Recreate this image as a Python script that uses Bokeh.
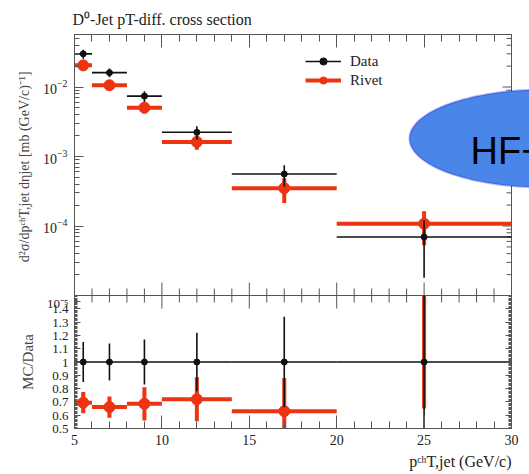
import numpy as np
from bokeh.plotting import figure
from bokeh.layouts import column
from bokeh.models import (Range1d, LinearAxis, LogAxis, SingleIntervalTicker,
                          FixedTicker, Legend, LegendItem,
                          PolyAnnotation, Label, Title, CustomJSTickFormatter)
from bokeh.embed import file_html
from bokeh.resources import INLINE

# ---------------- data ----------------
bin_lo = [5, 6, 8, 10, 14, 20]
bin_hi = [6, 8, 10, 14, 20, 30]
pt_centre = [5.5, 7, 9, 12, 17, 25]

data_xsec = [0.0300, 0.0161, 0.0074, 0.00223, 5.6e-4, 6.95e-5]
data_err = [0.0045, 0.0023, 0.0013, 0.00049, 1.9e-4, 5.15e-5]
rivet_xsec = [0.0205, 0.0106, 0.00505, 0.00162, 3.5e-4, 1.08e-4]
rivet_err = [0.0023, 0.0013, 0.0009, 0.00037, 1.35e-4, 5.5e-5]

data_ratio = [1.0, 1.0, 1.0, 1.0, 1.0, 1.0]
data_ratio_err = [0.15, 0.14, 0.17, 0.22, 0.34, 0.75]
rivet_ratio = [0.694, 0.661, 0.686, 0.72, 0.63, 1.55]
rivet_ratio_err = [0.08, 0.08, 0.125, 0.165, 0.25, 0.9]

ratio_tick_values = [0.5, 0.6, 0.7, 0.8, 0.9, 1.0, 1.1, 1.2, 1.3, 1.4]
x_major_ticks = [5, 10, 15, 20, 25, 30]
x_minor_ticks = [v for v in range(5, 31) if v % 5 != 0]
log_major_ticks = [1e-5, 1e-4, 1e-3, 1e-2]
log_minor_ticks = [k * t for t in log_major_ticks for k in range(2, 10) if k * t < 0.057]

title_text = "D\u2070-Jet pT-diff. cross section"
ylabel_top = "d\u00b2\u03c3/dp\u1d9c\u02b0T,jet d\u03b7jet  [mb (GeV/c)\u207b\u00b9]"
ylabel_ratio = "MC/Data"
xlabel_text = "p\u1d9c\u02b0T,jet (GeV/c)"
bottom_decade_label = "10\u207b\u2075"
overlay_text = "HF+"

RED = "#ee3311"
BLACK = "#111111"
AXC = "#555555"
SERIF = "Liberation Serif"

# layout constants (pixels)
W = 529
FL, FR, FT, FB = 74, 511, 34, 295     # top-panel frame (x of pT=30 at FR)
RB = 428                               # ratio frame bottom
H2 = 472 - FB
X0, X1 = 5, 30
Y0, Y1 = 1e-5, 0.057
R0, R1 = 0.5, 1.5
px_per_unit = (FR - FL) / (X1 - X0)
x_end_top = X0 + (W - FL) / px_per_unit          # top frame extends to window edge
px_per_decade = (FB - FT) / (np.log10(Y1) - np.log10(Y0))
px_per_ratio = (RB - FB) / (R1 - R0)
decade_label_pos = R1 - 5.5 / px_per_ratio      # where the 10^-5 label of the upper panel sits

blank = CustomJSTickFormatter(code="return '';")

# ---------------- top panel ----------------
p = figure(frame_width=W - FL, frame_height=FB - FT,
           x_range=Range1d(X0, x_end_top), y_range=Range1d(Y0, Y1),
           y_axis_type="log", x_axis_location=None, y_axis_location=None,
           output_backend="svg", toolbar_location=None,
           min_border_left=FL, min_border_right=0, min_border_top=FT, min_border_bottom=0)
p.grid.visible = False
p.outline_line_color = None
p.background_fill_color = "white"
p.border_fill_color = "white"

p.title.text = title_text
p.title.align = "left"
p.title.offset = -2
p.title.text_font = SERIF
p.title.text_font_size = "16px"
p.title.text_font_style = "normal"
p.title.text_color = "#222222"
p.title.standoff = 13


def style_axis(ax, labels=True, tin=8, tmin=4, size="14px"):
    ax.axis_line_color = AXC
    ax.major_tick_line_color = AXC
    ax.minor_tick_line_color = AXC
    ax.major_tick_in = tin
    ax.major_tick_out = 0
    ax.minor_tick_in = tmin
    ax.minor_tick_out = 0
    if labels:
        ax.major_label_text_font = SERIF
        ax.major_label_text_font_size = size
        ax.major_label_text_color = "#222222"
    else:
        ax.formatter = blank
        ax.major_label_text_font_size = "1px"
        ax.major_label_standoff = 0


xt = SingleIntervalTicker(interval=5, num_minor_ticks=5)
ax_top = LinearAxis(ticker=xt, bounds=(X0, X1))
style_axis(ax_top, labels=False, tin=13, tmin=7)
p.add_layout(ax_top, "above")

ly = LogAxis(ticker=FixedTicker(ticks=log_major_ticks[1:],
                                minor_ticks=log_major_ticks[:1] + log_minor_ticks))
style_axis(ly, labels=True, tin=9, tmin=5)
ly.major_label_standoff = 7
ly.axis_label = ylabel_top
ly.axis_label_text_font = SERIF
ly.axis_label_text_font_size = "14px"
ly.axis_label_text_font_style = "normal"
ly.axis_label_standoff = 8
p.add_layout(ly, "left")


def frame_ticks(fig, **kw):
    fig.segment(line_color=AXC, line_width=1, **kw)


# bottom border and upward x ticks of the upper panel
frame_ticks(p, x0=[X0], x1=[X1], y0=[Y0], y1=[Y0])
frame_ticks(p, x0=x_major_ticks, x1=x_major_ticks, y0=[Y0] * len(x_major_ticks),
            y1=[Y0 * 10 ** (13 / px_per_decade)] * len(x_major_ticks))
frame_ticks(p, x0=x_minor_ticks, x1=x_minor_ticks, y0=[Y0] * len(x_minor_ticks),
            y1=[Y0 * 10 ** (7 / px_per_decade)] * len(x_minor_ticks))
# right border at pT = 30 with inward log ticks
frame_ticks(p, x0=[X1], x1=[X1], y0=[Y0], y1=[Y1])
frame_ticks(p, x0=[X1] * len(log_major_ticks), x1=[X1 - 9 / px_per_unit] * len(log_major_ticks),
            y0=log_major_ticks, y1=log_major_ticks)
frame_ticks(p, x0=[X1] * len(log_minor_ticks), x1=[X1 - 5 / px_per_unit] * len(log_minor_ticks),
            y0=log_minor_ticks, y1=log_minor_ticks)

# Rivet
r_h = p.segment(x0=bin_lo, x1=bin_hi, y0=rivet_xsec, y1=rivet_xsec, line_color=RED, line_width=4)
p.segment(x0=pt_centre, x1=pt_centre,
          y0=[v - e for v, e in zip(rivet_xsec, rivet_err)],
          y1=[v + e for v, e in zip(rivet_xsec, rivet_err)], line_color=RED, line_width=4)
r_m = p.scatter(pt_centre, rivet_xsec, size=11, color=RED)
# Data
d_h = p.segment(x0=bin_lo, x1=bin_hi, y0=data_xsec, y1=data_xsec, line_color=BLACK, line_width=1.6)
p.segment(x0=pt_centre, x1=pt_centre,
          y0=[v - e for v, e in zip(data_xsec, data_err)],
          y1=[v + e for v, e in zip(data_xsec, data_err)], line_color=BLACK, line_width=1.6)
d_m = p.scatter(pt_centre, data_xsec, size=6, color=BLACK)

legend = Legend(items=[LegendItem(label="Data", renderers=[d_h, d_m]),
                       LegendItem(label="Rivet", renderers=[r_h, r_m])],
                location=(305 - FL, FB - 52 - 37), background_fill_alpha=0,
                border_line_color=None,
                label_text_font=SERIF, label_text_font_size="15px", label_text_color="#222222",
                glyph_width=36, glyph_height=18, label_height=18, spacing=1, padding=0,
                margin=0, label_standoff=9)
p.add_layout(legend)

# overlay ellipse annotation (screen units relative to the frame's bottom-left)
th = np.linspace(0, 2 * np.pi, 160)
cx, cy, a, b = 545 - FL, FB - 138, 136, 49
ell = PolyAnnotation(xs=list(cx + a * np.cos(th)), ys=list(cy + b * np.sin(th)),
                     xs_units="screen", ys_units="screen",
                     fill_color="#4a86e8", fill_alpha=1.0, line_color="#1515e8", line_width=2,
                     level="overlay")
p.add_layout(ell)
p.add_layout(Label(x=470 - FL, y=FB - 150, x_units="screen", y_units="screen", text=overlay_text,
                   text_font="Liberation Sans", text_font_size="38px", text_color="black",
                   text_baseline="alphabetic", level="overlay"))

# ---------------- ratio panel ----------------
q = figure(width=W, height=H2, x_range=Range1d(X0, X1), y_range=Range1d(R0, R1),
           x_axis_location=None, y_axis_location=None,
           output_backend="svg", toolbar_location=None,
           min_border_left=FL, min_border_right=W - FR, min_border_top=0,
           min_border_bottom=FB + H2 - RB)
q.grid.visible = False
q.outline_line_color = AXC
q.border_fill_color = "white"

# downward x ticks along the shared border
frame_ticks(q, x0=x_major_ticks, x1=x_major_ticks, y0=[R1] * len(x_major_ticks),
            y1=[R1 - 13 / px_per_ratio] * len(x_major_ticks))
frame_ticks(q, x0=x_minor_ticks, x1=x_minor_ticks, y0=[R1] * len(x_minor_ticks),
            y1=[R1 - 7 / px_per_ratio] * len(x_minor_ticks))
frame_ticks(q, x0=[X0], x1=[X1], y0=[R1], y1=[R1])

qb = LinearAxis(ticker=xt)
style_axis(qb, labels=True, tin=13, tmin=7)
qb.major_label_standoff = 6
q.add_layout(qb, "below")

minor_ratio = [round(R0 + 0.01 * i, 2) for i in range(101)]
ql = LinearAxis(ticker=FixedTicker(ticks=ratio_tick_values + [decade_label_pos],
                                   minor_ticks=minor_ratio),
                formatter=CustomJSTickFormatter(
                    args=dict(lim=1.42, txt=bottom_decade_label),
                    code="if (tick > lim) { return txt; } "
                         "return String(Math.round(tick * 10) / 10);"))
style_axis(ql, labels=True, tin=6, tmin=3, size="13px")
ql.major_label_standoff = 6
ql.axis_label = ylabel_ratio
ql.axis_label_text_font = SERIF
ql.axis_label_text_font_size = "15px"
ql.axis_label_text_font_style = "normal"
ql.axis_label_standoff = 8
q.add_layout(ql, "left")
qr = LinearAxis(ticker=FixedTicker(ticks=ratio_tick_values, minor_ticks=minor_ratio))
style_axis(qr, labels=False, tin=6, tmin=3)
q.add_layout(qr, "right")

q.segment(x0=bin_lo, x1=bin_hi, y0=rivet_ratio, y1=rivet_ratio, line_color=RED, line_width=4)
q.segment(x0=pt_centre, x1=pt_centre,
          y0=[v - e for v, e in zip(rivet_ratio, rivet_ratio_err)],
          y1=[v + e for v, e in zip(rivet_ratio, rivet_ratio_err)], line_color=RED, line_width=4)
q.scatter(pt_centre, rivet_ratio, size=11, color=RED)
q.segment(x0=bin_lo, x1=bin_hi, y0=data_ratio, y1=data_ratio, line_color=BLACK, line_width=1.6)
q.segment(x0=pt_centre, x1=pt_centre,
          y0=[v - e for v, e in zip(data_ratio, data_ratio_err)],
          y1=[v + e for v, e in zip(data_ratio, data_ratio_err)], line_color=BLACK, line_width=1.6)
q.scatter(pt_centre, data_ratio, size=6, color=BLACK)

q.add_layout(Title(text=xlabel_text, align="right", text_font=SERIF, text_font_size="16px",
                   text_font_style="normal", text_color="#222222", standoff=6), "below")

layout = column(p, q, spacing=0)
open("out.html", "w").write(file_html(layout, INLINE))
